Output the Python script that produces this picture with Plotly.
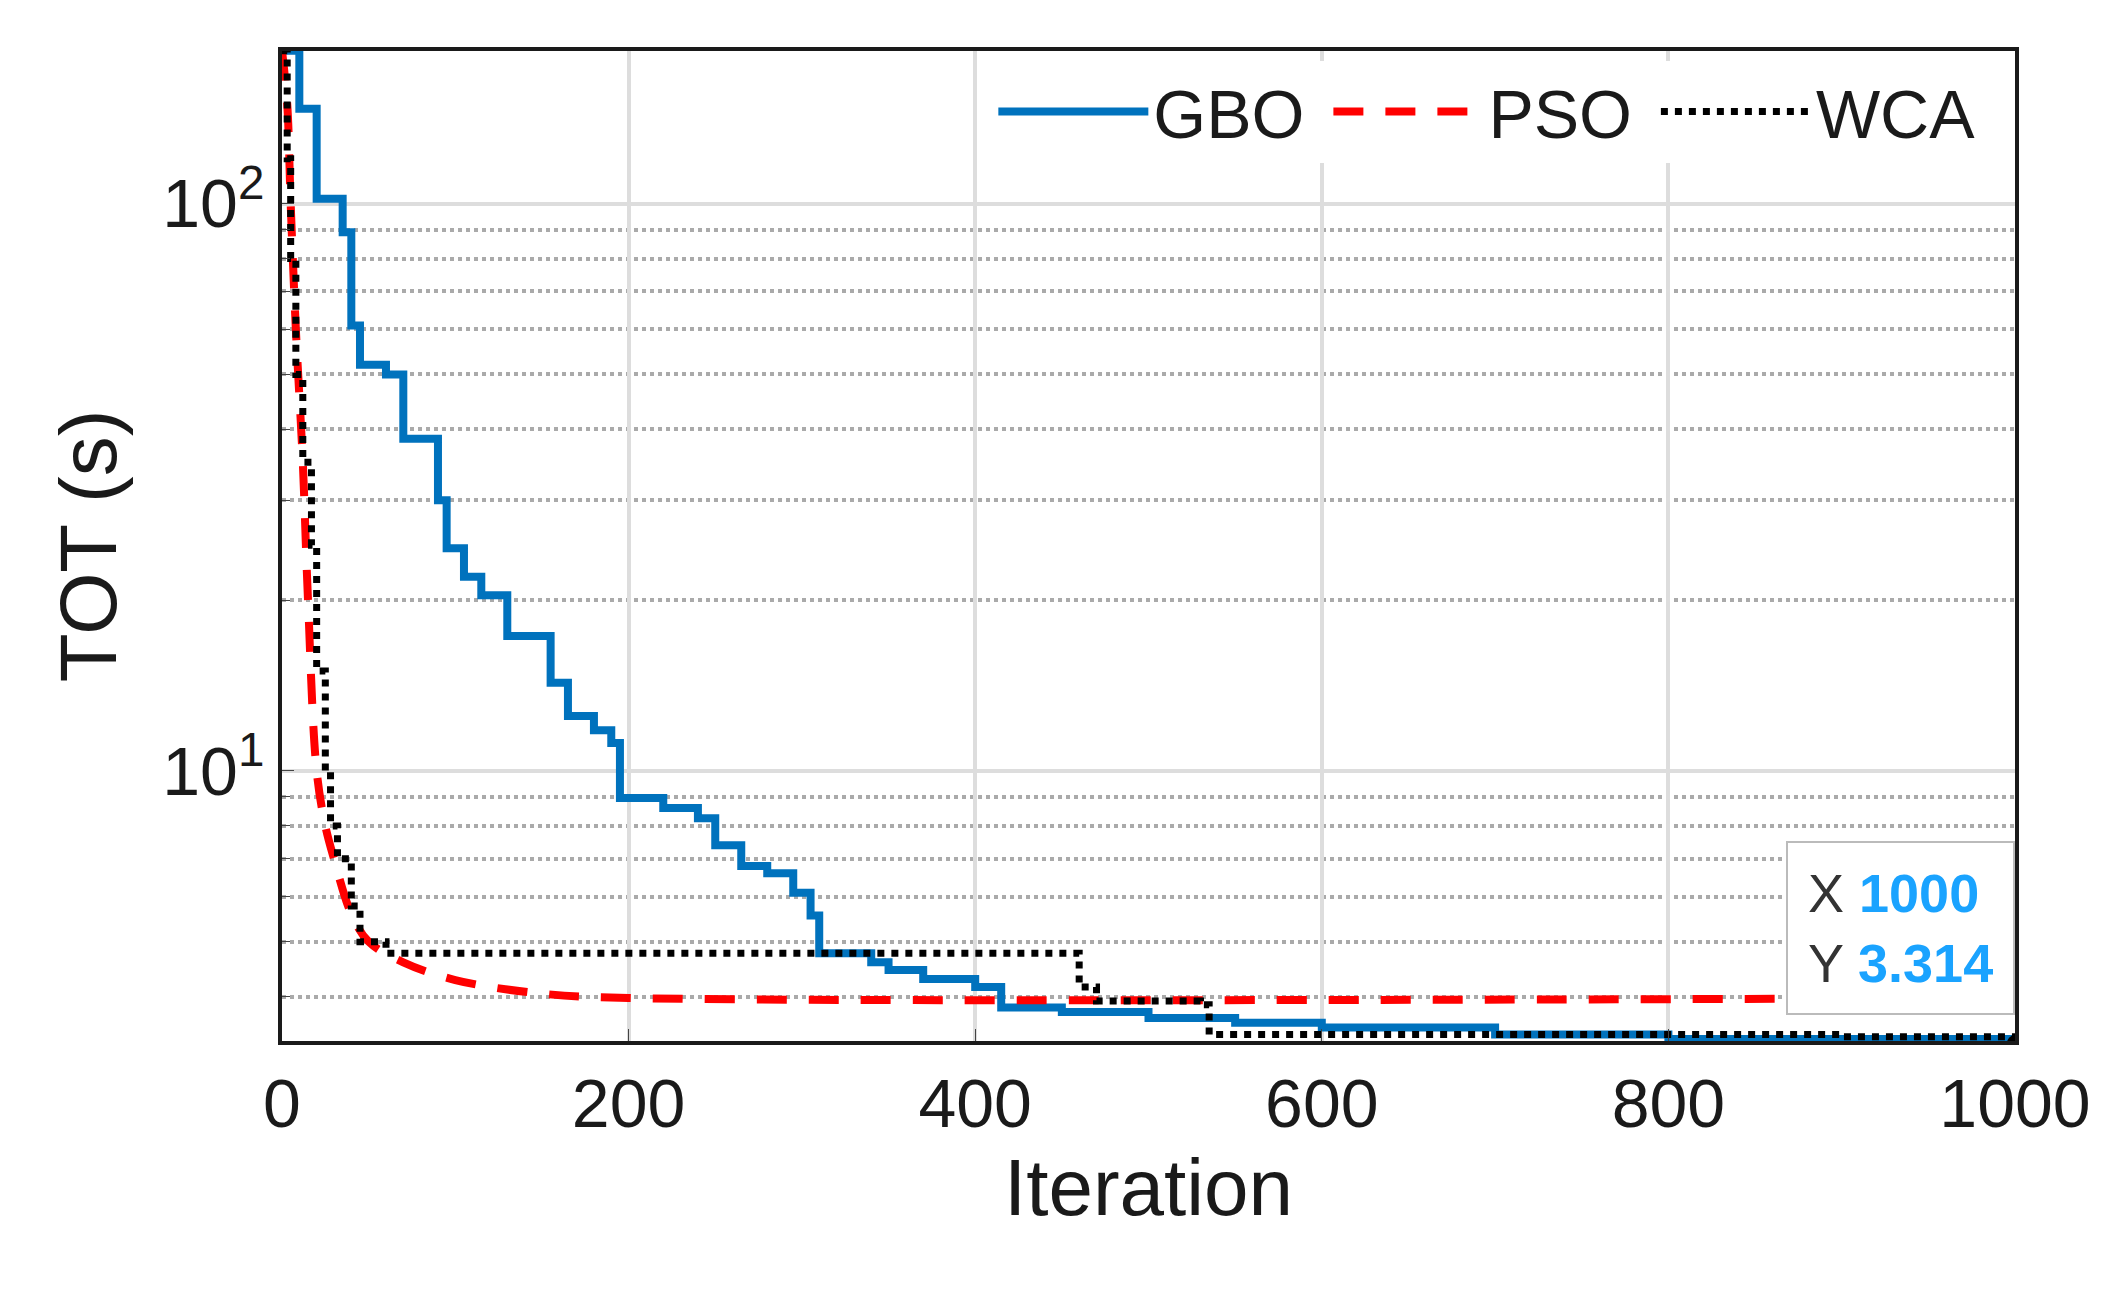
import plotly.graph_objects as go

# convergence curves (step plots)
gbo_it = [0, 10, 20, 35, 40, 45, 60, 70, 90, 95, 105, 115, 130, 155, 165, 180, 190, 195, 220, 240, 250, 265,
          280, 295, 305, 310, 340, 350, 370, 400, 415, 450, 500, 550, 600, 700, 800, 1000]
gbo_val = [186, 147, 102, 89, 61, 52, 50, 38.5, 30, 24.7, 22, 20.4, 17.3, 14.3, 12.5, 11.8, 11.2, 8.96, 8.6,
           8.25, 7.4, 6.8, 6.6, 6.1, 5.56, 4.77, 4.6, 4.46, 4.3, 4.16, 3.83, 3.76, 3.67, 3.6, 3.53, 3.43, 3.37, 3.314]

pso_it = [0, 3, 5, 8, 12, 15, 20, 25, 30, 40, 50, 70, 100, 150, 200, 1000]
pso_val = [186, 150, 100, 60, 35, 20, 10, 8, 7, 5.6, 5.0, 4.6, 4.28, 4.05, 3.98, 3.98]

wca_it = [0, 3, 5, 8, 12, 17, 20, 25, 28, 32, 40, 45, 60, 455, 460, 470, 530, 535, 900, 1000]
wca_val = [186, 120, 80, 50, 35, 25, 15, 10, 8, 7, 5.78, 5.0, 4.77, 4.77, 4.16, 3.93, 3.87, 3.43, 3.4, 3.314]

font = "Liberation Sans, Arial"

fig = go.Figure()
fig.add_trace(go.Scatter(x=gbo_it, y=gbo_val, mode="lines", line=dict(color="#0072BD", width=8, shape="hv"), name="GBO "))
fig.add_trace(go.Scatter(x=pso_it, y=pso_val, mode="lines", line=dict(color="#FF0000", width=8, dash="30px,22px", shape="spline"), name="PSO "))
fig.add_trace(go.Scatter(x=wca_it, y=wca_val, mode="lines", line=dict(color="#000000", width=7, dash="dot", shape="hv"), name="WCA"))
# data tip marker
fig.add_trace(go.Scatter(x=[1000], y=[3.314], mode="markers", marker=dict(color="black", size=16), showlegend=False))

fig.add_annotation(x=1000, y=0.57, xref="x", yref="y", xanchor="right", yanchor="bottom",
                   text="X <b><span style='color:#1AA3FF'>1000</span></b><br>Y <b><span style='color:#1AA3FF'>3.314</span></b>",
                   showarrow=False, align="left", bgcolor="white", bordercolor="#BBBBBB", borderwidth=2,
                   borderpad=20, font=dict(size=54, family=font, color="#333333"))

fig.update_layout(
    width=2116, height=1292, plot_bgcolor="white", paper_bgcolor="white",
    margin=dict(l=274, r=109, t=43, b=259),
    font=dict(family=font, size=68, color="#1a1a1a"),
    legend=dict(orientation="h", x=0.98, y=0.99, xanchor="right", yanchor="top",
                bgcolor="white", font=dict(size=68), itemwidth=150),
    showlegend=True,
)
fig.update_xaxes(range=[0, 1000], tickvals=[0, 200, 400, 600, 800, 1000], showgrid=True, gridcolor="#DDDDDD",
                 gridwidth=4, showline=True, linecolor="#1a1a1a", linewidth=4, mirror=True, ticks="inside",
                 ticklen=12, title=dict(text="Iteration", font=dict(size=80), standoff=20), zeroline=False)
fig.update_yaxes(type="log", range=[0.524, 2.269], tickvals=[10, 100],
                 ticktext=["10<sup>1</sup>", "10<sup>2</sup>"], showgrid=True, gridcolor="#DDDDDD", gridwidth=4,
                 minor=dict(tickvals=[4, 5, 6, 7, 8, 9, 20, 30, 40, 50, 60, 70, 80, 90], showgrid=True,
                            gridcolor="#AAAAAA", griddash="dot", gridwidth=4, ticks="inside", ticklen=8),
                 showline=True, linecolor="#1a1a1a", linewidth=4, mirror=True, ticks="inside", ticklen=12,
                 title=dict(text="TOT (s)", font=dict(size=80), standoff=20))

fig.write_html("out.html")
